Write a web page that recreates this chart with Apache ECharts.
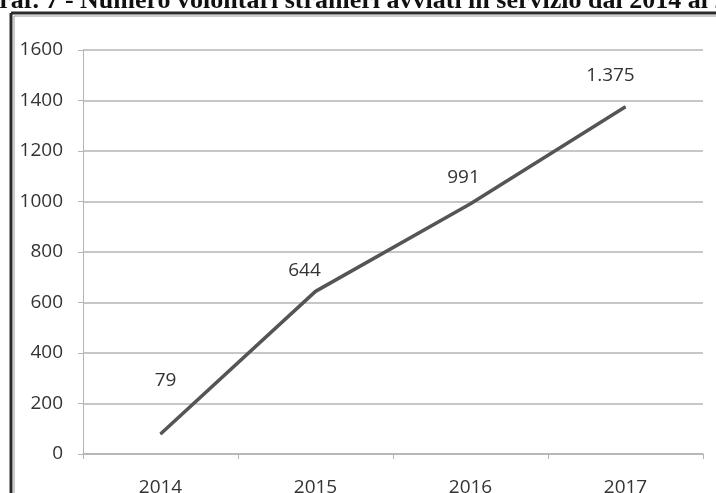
<!DOCTYPE html>
<html>
<head>
<meta charset="utf-8">
<script src="https://cdn.jsdelivr.net/npm/echarts@6/dist/echarts.min.js"></script>
<style>
html,body{margin:0;padding:0;background:#fff;}
#chart{width:716px;height:493px;}
</style>
</head>
<body>
<div id="chart"></div>
<script>
const titleText = "Graf. 7 - Numero volontari stranieri avviati in servizio dal 2014 al 2017";
const years = ["2014", "2015", "2016", "2017"];
const volontari = [79, 644, 991, 1375];
const yTicks = { min: 0, max: 1600, interval: 200 };

// manual label placement (as in the original spreadsheet chart)
const labelOffsets = [[5, -38], [-11, -6], [-7, -11], [-15, -16]];

function fmtIt(v) {
  return String(v).replace(/\B(?=(\d{3})+(?!\d))/g, '.');
}

const seriesData = volontari.map((v, i) => ({
  value: v,
  label: { offset: labelOffsets[i] }
}));

const chart = echarts.init(document.getElementById('chart'), null, { renderer: 'canvas' });
const axisFont = "'Open Sans', 'Noto Sans', sans-serif";
chart.setOption({
  backgroundColor: '#ffffff',
  animation: false,
  title: {
    text: titleText,
    left: -21,
    top: -12,
    padding: 0,
    textStyle: {
      fontFamily: "'Liberation Serif', 'DejaVu Serif', serif",
      fontWeight: 'bold',
      fontSize: 26,
      color: '#111'
    }
  },
  graphic: [
    { type: 'line', shape: { x1: 11, y1: 13, x2: 716, y2: 13 }, style: { stroke: '#2a2a2a', lineWidth: 3 } },
    { type: 'line', shape: { x1: 11, y1: 13, x2: 11, y2: 493 }, style: { stroke: '#2a2a2a', lineWidth: 3 } },
    { type: 'line', shape: { x1: 14, y1: 16, x2: 716, y2: 16 }, style: { stroke: '#9a9a9a', lineWidth: 1 } },
    { type: 'line', shape: { x1: 14, y1: 16, x2: 14, y2: 493 }, style: { stroke: '#9a9a9a', lineWidth: 1 } }
  ],
  grid: { left: 83, right: 13, top: 50, bottom: 39, containLabel: false, outerBoundsMode: 'none' },
  xAxis: {
    type: 'category',
    data: years,
    boundaryGap: true,
    axisLine: { show: true, lineStyle: { color: '#b4b4b4', width: 1.5 } },
    axisTick: { show: true, length: 5, lineStyle: { color: '#b4b4b4' } },
    axisLabel: { margin: 24, fontFamily: axisFont, fontSize: 19, color: '#333' },
    splitLine: { show: false }
  },
  yAxis: {
    type: 'value',
    min: yTicks.min,
    max: yTicks.max,
    interval: yTicks.interval,
    axisLine: { show: true, lineStyle: { color: '#b4b4b4', width: 1 } },
    axisTick: { show: true, length: 5, lineStyle: { color: '#b4b4b4' } },
    axisLabel: { margin: 20, fontFamily: axisFont, fontSize: 19, color: '#333', formatter: v => String(v) },
    splitLine: { show: true, lineStyle: { color: '#b4b4b4', width: 1.5 } }
  },
  series: [{
    type: 'line',
    data: seriesData,
    symbol: 'circle',
    symbolSize: 1,
    showSymbol: true,
    lineStyle: { color: '#555555', width: 3.5 },
    itemStyle: { color: '#555555' },
    label: {
      show: true,
      position: 'top',
      fontFamily: axisFont,
      fontSize: 19,
      color: '#333',
      formatter: p => fmtIt(p.value)
    }
  }]
});
</script>
</body>
</html>
